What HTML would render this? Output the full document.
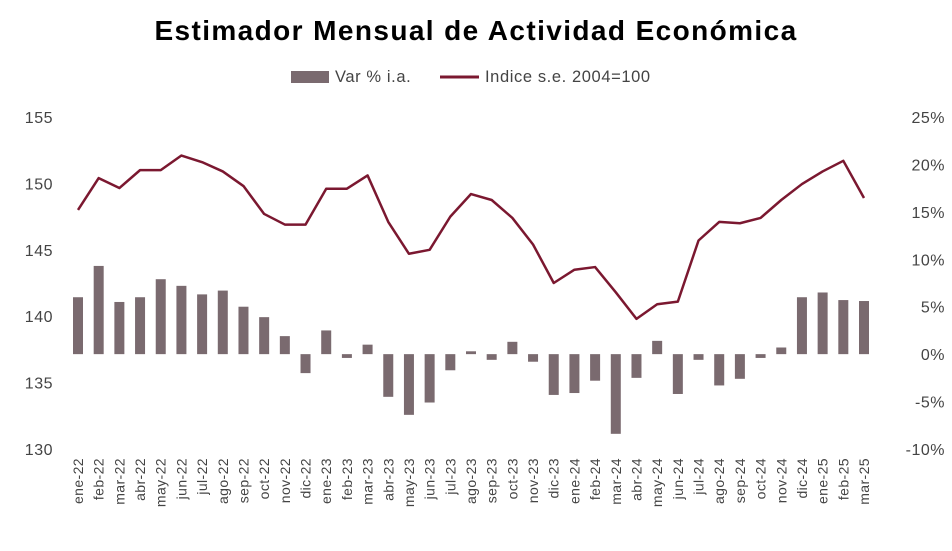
<!DOCTYPE html>
<html><head><meta charset="utf-8"><style>
body{margin:0;background:#fff;font-family:"Liberation Sans",sans-serif;}
</style></head><body>
<svg width="952" height="546" xmlns="http://www.w3.org/2000/svg">
<text x="476" y="40" text-anchor="middle" font-size="28" font-weight="bold" letter-spacing="1.4" fill="#000">Estimador Mensual de Actividad Económica</text>
<g>
<rect x="291" y="71" width="38" height="12" fill="#7a6a6f"/>
<text x="335" y="82" font-size="16.5" letter-spacing="0.6" fill="#444">Var % i.a.</text>
<line x1="440" y1="77" x2="479" y2="77" stroke="#7b1830" stroke-width="3"/>
<text x="485" y="82" font-size="16.5" letter-spacing="0.6" fill="#444">Indice s.e. 2004=100</text>
</g>
<g id="axes"></g>
<g id="bars"></g>
<g id="line"></g>
</svg>
<script>
const categories=["ene-22","feb-22","mar-22","abr-22","may-22","jun-22","jul-22","ago-22","sep-22","oct-22","nov-22","dic-22","ene-23","feb-23","mar-23","abr-23","may-23","jun-23","jul-23","ago-23","sep-23","oct-23","nov-23","dic-23","ene-24","feb-24","mar-24","abr-24","may-24","jun-24","jul-24","ago-24","sep-24","oct-24","nov-24","dic-24","ene-25","feb-25","mar-25"];
const indexValues=[148.0,150.4,149.65,151.0,151.0,152.1,151.6,150.9,149.8,147.7,146.9,146.9,149.6,149.6,150.6,147.1,144.7,145.0,147.5,149.2,148.75,147.4,145.4,142.5,143.5,143.7,141.8,139.8,140.9,141.1,145.7,147.1,147.0,147.4,148.75,149.95,150.9,151.7,148.9];
const varValues=[6.0,9.3,5.5,6.0,7.9,7.2,6.3,6.7,5.0,3.9,1.9,-2.0,2.5,-0.4,1.0,-4.5,-6.4,-5.1,-1.7,0.3,-0.6,1.3,-0.8,-4.3,-4.1,-2.8,-8.4,-2.5,1.4,-4.2,-0.6,-3.3,-2.6,-0.4,0.7,6.0,6.5,5.7,5.6];
const leftTicks=[130,135,140,145,150,155];
const rightTicks=[-10,-5,0,5,10,15,20,25];
const NS="http://www.w3.org/2000/svg";
const x0=78,x1=864,plotTop=117,plotBot=449;
const xs=i=>x0+i*(x1-x0)/(categories.length-1);
const yL=v=>plotTop+(155-v)*(plotBot-plotTop)/25;
const yR=v=>plotTop+(25-v)*(plotBot-plotTop)/35;
function mk(t,a,parent,txt){const e=document.createElementNS(NS,t);for(const k in a)e.setAttribute(k,a[k]);if(txt!==undefined)e.textContent=txt;parent.appendChild(e);return e;}
const axes=document.getElementById('axes'),bars=document.getElementById('bars'),line=document.getElementById('line');
leftTicks.forEach(v=>{const t=mk('text',{x:53,y:yL(v)+6,'text-anchor':'end','font-size':16,'letter-spacing':0.5,fill:'#444'},axes,String(v));

});
rightTicks.forEach(v=>{const t=mk('text',{x:945,y:yR(v)+6,'text-anchor':'end','font-size':16,'letter-spacing':0.5,fill:'#444'},axes,v+'%');

});
categories.forEach((c,i)=>{const x=xs(i)+5;const t=mk('text',{x:x,y:458,'text-anchor':'end','font-size':14,'letter-spacing':0.4,fill:'#444',transform:`rotate(-90 ${x} 458)`},axes,c);

});
varValues.forEach((v,i)=>{const y0=yR(0),y=yR(v);const r=mk('rect',{x:xs(i)-5,y:Math.min(y0,y),width:10,height:Math.max(1.5,Math.abs(y-y0)),fill:'#7a6a6f'},bars);

});
const p=mk('polyline',{points:indexValues.map((v,i)=>xs(i)+','+yL(v)).join(' '),fill:'none',stroke:'#7b1830','stroke-width':2.5,'stroke-linejoin':'round'},line);


</script>
</body></html>
